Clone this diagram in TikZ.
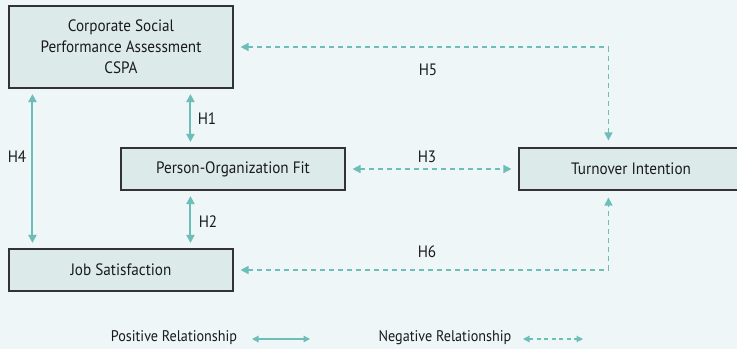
\documentclass[tikz,border=0pt]{standalone}
\usepackage{fontspec}
\setmainfont{PT Sans}[FakeStretch=0.92]
\usetikzlibrary{arrows.meta,calc}
\definecolor{bgc}{HTML}{EEF6F8}
\definecolor{boxc}{HTML}{DCEBEA}
\definecolor{arc}{HTML}{6DBDB8}
\definecolor{txc}{HTML}{1A1A1A}
\tikzset{
  box/.style={draw=black!80, line width=1.1pt, fill=boxc, inner sep=0pt, minimum width=224pt, align=center, font=\fontsize{16.5}{21}\selectfont, text=txc},
  posarrow/.style={draw=arc, line width=2pt, {Triangle[length=8pt,width=8pt]}-{Triangle[length=8pt,width=8pt]}, shorten <=5.5pt, shorten >=5.5pt},
  negarrow/.style={draw=arc, line width=1.4pt, dash pattern=on 5pt off 4pt, {Triangle[length=8pt,width=8pt]}-{Triangle[length=8pt,width=8pt]}, shorten <=7pt, shorten >=7pt},
  lbl/.style={font=\fontsize{16.5}{18}\selectfont, text=txc, inner sep=0pt},
  leg/.style={font=\fontsize{15.4}{18}\selectfont, text=txc, inner sep=0pt},
}
\begin{document}
\begin{tikzpicture}[x=1pt,y=-1pt]
\fill[bgc] (0,0) rectangle (737,349);
\useasboundingbox (0,0) rectangle (737,349);
\begin{scope}
\clip (0,0) rectangle (737,349);
\node[box, minimum height=82pt] (cspa) at (121,47) {Corporate Social\\Performance Assessment\\CSPA};
\node[box, minimum height=42pt] (po) at (233,169) {Person-Organization Fit};
\node[box, minimum height=42pt] (ti) at (631,169) {Turnover Intention};
\node[box, minimum height=42pt] (js) at (121,270) {Job Satisfaction};
\end{scope}
\coordinate (h4a) at ($(cspa.south west)+(24,0)$);
\coordinate (h4b) at ($(js.north west)+(24,0)$);
\coordinate (h1a) at ($(cspa.south west)+(182,0)$);
\coordinate (h1b) at ($(po.north west)+(70,0)$);
\coordinate (h2a) at ($(po.south west)+(70,0)$);
\coordinate (h2b) at ($(js.north west)+(182,0)$);
\coordinate (tin) at ($(ti.north west)+(90,0)$);
\coordinate (tis) at ($(ti.south west)+(90,0)$);
\draw[posarrow] (h4a) -- (h4b);
\draw[posarrow] (h1a) -- (h1b);
\draw[posarrow] (h2a) -- (h2b);
\draw[negarrow] (po.east) -- (ti.west);
\draw[negarrow] (cspa.east) -| (tin);
\draw[negarrow] (js.east) -| (tis);
\node[lbl] (l1) at (207,119) {H1};
\node[lbl] (l2) at (208,222) {H2};
\node[lbl] (l3) at (427,157) {H3};
\node[lbl] (l4) at (17,157) {H4};
\node[lbl] (l5) at (428,70) {H5};
\node[lbl] (l6) at (427,252) {H6};
\node[leg] (lp) at (174,338) {Positive Relationship};
\node[leg] (ln) at (445,338) {Negative Relationship};
\coordinate (pa) at (252,339);
\coordinate (pb) at (310,339);
\coordinate (na) at (523,339);
\coordinate (nb) at (583,339);
\draw[draw=arc, line width=1.3pt, {Triangle[length=6.5pt,width=6.5pt]}-{Triangle[length=6.5pt,width=6.5pt]}] (pa) -- (pb);
\draw[draw=arc, line width=1.1pt, dash pattern=on 4pt off 3.5pt, {Triangle[length=6.5pt,width=6.5pt]}-{Triangle[length=6.5pt,width=6.5pt]}] (na) -- (nb);
\end{tikzpicture}
\end{document}
